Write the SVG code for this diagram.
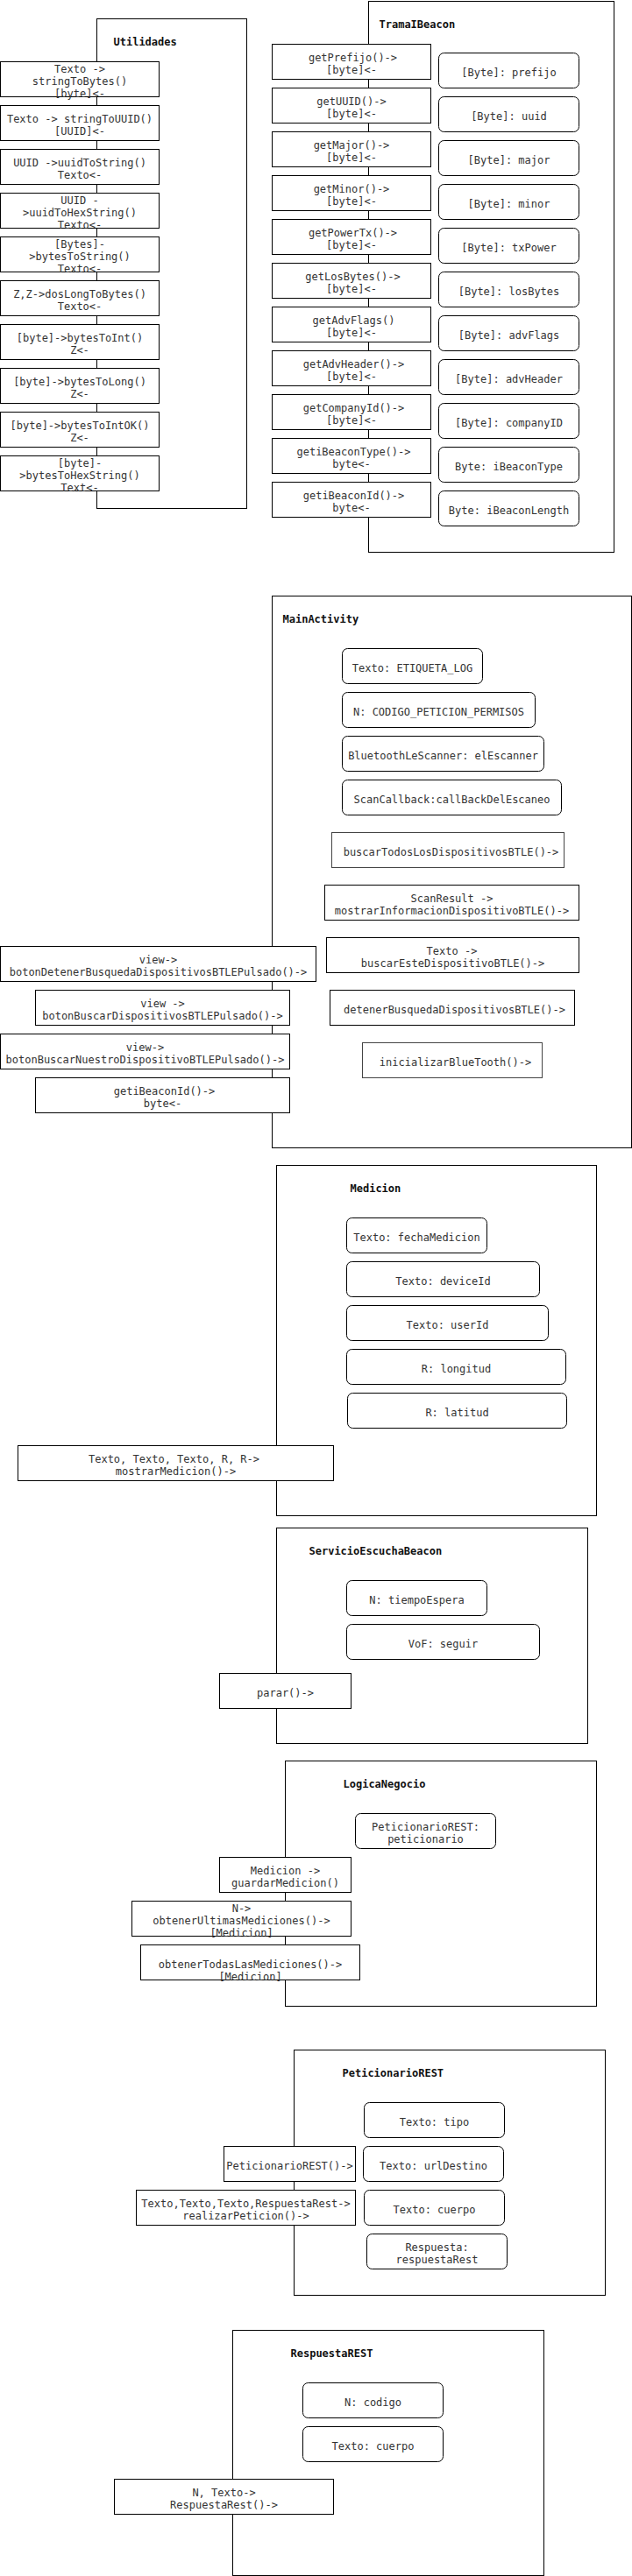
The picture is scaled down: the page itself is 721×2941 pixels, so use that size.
<svg xmlns="http://www.w3.org/2000/svg" width="721" height="2941" viewBox="0 0 721 2941">
<style>
rect{fill:#fff;stroke:#000;stroke-width:1}
rect.g{stroke:#444}
text{font-family:"DejaVu Sans Mono","Liberation Mono",monospace;font-size:12px;fill:#333;text-anchor:middle}
text.h{font-weight:bold;fill:#111;text-anchor:start}
</style>
<rect x="0" y="0" width="721" height="2941" style="stroke:none"/>
<g transform="translate(0.5,0.5)">
<g id="connectors"/>

<g id="Utilidades">
<rect x="110" y="21" width="171" height="559"/>
<text class="h" x="129" y="51">Utilidades</text>
<g id="u1"><rect x="0" y="70" width="181" height="40"/><text x="90.5" y="82.5">Texto -&gt;</text><text x="90.5" y="96.5">stringToBytes()</text><text x="90.5" y="110.5">[byte]&lt;-</text></g>
<g id="u2"><rect x="0" y="120" width="181" height="40"/><text x="90.5" y="139.5">Texto -&gt; stringToUUID()</text><text x="90.5" y="153.5">[UUID]&lt;-</text></g>
<g id="u3"><rect x="0" y="170" width="181" height="40"/><text x="90.5" y="189.5">UUID -&gt;uuidToString()</text><text x="90.5" y="203.5">Texto&lt;-</text></g>
<g id="u4"><rect x="0" y="220" width="181" height="40"/><text x="90.5" y="232.5">UUID -</text><text x="90.5" y="246.5">&gt;uuidToHexString()</text><text x="90.5" y="260.5">Texto&lt;-</text></g>
<g id="u5"><rect x="0" y="270" width="181" height="40"/><text x="90.5" y="282.5">[Bytes]-</text><text x="90.5" y="296.5">&gt;bytesToString()</text><text x="90.5" y="310.5">Texto&lt;-</text></g>
<g id="u6"><rect x="0" y="320" width="181" height="40"/><text x="90.5" y="339.5">Z,Z-&gt;dosLongToBytes()</text><text x="90.5" y="353.5">Texto&lt;-</text></g>
<g id="u7"><rect x="0" y="370" width="181" height="40"/><text x="90.5" y="389.5">[byte]-&gt;bytesToInt()</text><text x="90.5" y="403.5">Z&lt;-</text></g>
<g id="u8"><rect x="0" y="420" width="181" height="40"/><text x="90.5" y="439.5">[byte]-&gt;bytesToLong()</text><text x="90.5" y="453.5">Z&lt;-</text></g>
<g id="u9"><rect x="0" y="470" width="181" height="40"/><text x="90.5" y="489.5">[byte]-&gt;bytesToIntOK()</text><text x="90.5" y="503.5">Z&lt;-</text></g>
<g id="u10"><rect x="0" y="520" width="181" height="40"/><text x="90.5" y="532.5">[byte]-</text><text x="90.5" y="546.5">&gt;bytesToHexString()</text><text x="90.5" y="560.5">Text&lt;-</text></g>
</g>

<g id="TramaIBeacon">
<rect x="420" y="1" width="280" height="629"/>
<text class="h" x="432" y="31">TramaIBeacon</text>
<g id="t1"><rect x="310" y="50" width="181" height="40"/><text x="402" y="69.5">getPrefijo()-&gt;</text><text x="400.5" y="83.5">[byte]&lt;-</text></g>
<g id="t2"><rect x="310" y="100" width="181" height="40"/><text x="400.5" y="119.5">getUUID()-&gt;</text><text x="400.5" y="133.5">[byte]&lt;-</text></g>
<g id="t3"><rect x="310" y="150" width="181" height="40"/><text x="400.5" y="169.5">getMajor()-&gt;</text><text x="400.5" y="183.5">[byte]&lt;-</text></g>
<g id="t4"><rect x="310" y="200" width="181" height="40"/><text x="400.5" y="219.5">getMinor()-&gt;</text><text x="400.5" y="233.5">[byte]&lt;-</text></g>
<g id="t5"><rect x="310" y="250" width="181" height="40"/><text x="402" y="269.5">getPowerTx()-&gt;</text><text x="400.5" y="283.5">[byte]&lt;-</text></g>
<g id="t6"><rect x="310" y="300" width="181" height="40"/><text x="402" y="319.5">getLosBytes()-&gt;</text><text x="400.5" y="333.5">[byte]&lt;-</text></g>
<g id="t7"><rect x="310" y="350" width="181" height="40"/><text x="403" y="369.5">getAdvFlags()</text><text x="400.5" y="383.5">[byte]&lt;-</text></g>
<g id="t8"><rect x="310" y="400" width="181" height="40"/><text x="403" y="419.5">getAdvHeader()-&gt;</text><text x="400.5" y="433.5">[byte]&lt;-</text></g>
<g id="t9"><rect x="310" y="450" width="181" height="40"/><text x="403" y="469.5">getCompanyId()-&gt;</text><text x="400.5" y="483.5">[byte]&lt;-</text></g>
<g id="t10"><rect x="310" y="500" width="181" height="40"/><text x="403" y="519.5">getiBeaconType()-&gt;</text><text x="400.5" y="533.5">byte&lt;-</text></g>
<g id="t11"><rect x="310" y="550" width="181" height="40"/><text x="403" y="569.5">getiBeaconId()-&gt;</text><text x="400.5" y="583.5">byte&lt;-</text></g>
<g id="ta1"><rect x="500" y="60" width="160" height="40" rx="6"/><text x="580" y="86.5">[Byte]: prefijo</text></g>
<g id="ta2"><rect x="500" y="110" width="160" height="40" rx="6"/><text x="580" y="136.5">[Byte]: uuid</text></g>
<g id="ta3"><rect x="500" y="160" width="160" height="40" rx="6"/><text x="580" y="186.5">[Byte]: major</text></g>
<g id="ta4"><rect x="500" y="210" width="160" height="40" rx="6"/><text x="580" y="236.5">[Byte]: minor</text></g>
<g id="ta5"><rect x="500" y="260" width="160" height="40" rx="6"/><text x="580" y="286.5">[Byte]: txPower</text></g>
<g id="ta6"><rect x="500" y="310" width="160" height="40" rx="6"/><text x="580" y="336.5">[Byte]: losBytes</text></g>
<g id="ta7"><rect x="500" y="360" width="160" height="40" rx="6"/><text x="580" y="386.5">[Byte]: advFlags</text></g>
<g id="ta8"><rect x="500" y="410" width="160" height="40" rx="6"/><text x="580" y="436.5">[Byte]: advHeader</text></g>
<g id="ta9"><rect x="500" y="460" width="160" height="40" rx="6"/><text x="580" y="486.5">[Byte]: companyID</text></g>
<g id="ta10"><rect x="500" y="510" width="160" height="40" rx="6"/><text x="580" y="536.5">Byte: iBeaconType</text></g>
<g id="ta11"><rect x="500" y="560" width="160" height="40" rx="6"/><text x="580" y="586.5">Byte: iBeaconLength</text></g>
</g>

<g id="MainActivity">
<rect x="310" y="680" width="410" height="630"/>
<text class="h" x="322" y="710">MainActivity</text>
<g id="ma1"><rect x="390" y="740" width="160" height="40" rx="6"/><text x="470" y="766.5">Texto: ETIQUETA_LOG</text></g>
<g id="ma2"><rect x="390" y="790" width="220" height="40" rx="6"/><text x="500" y="816.5">N: CODIGO_PETICION_PERMISOS</text></g>
<g id="ma3"><rect x="390" y="840" width="230" height="40" rx="6"/><text x="505" y="866.5">BluetoothLeScanner: elEscanner</text></g>
<g id="ma4"><rect x="390" y="890" width="250" height="40" rx="6"/><text x="515" y="916.5">ScanCallback:callBackDelEscaneo</text></g>
<g id="mm1"><rect class="g" x="378" y="950" width="265" height="40"/><text x="514" y="976.5">buscarTodosLosDispositivosBTLE()-&gt;</text></g>
<g id="mm2"><rect x="370" y="1010" width="290" height="40"/><text x="515" y="1029.5">ScanResult -&gt;</text><text x="515" y="1043.5">mostrarInformacionDispositivoBTLE()-&gt;</text></g>
<g id="mm3"><rect x="372" y="1070" width="288" height="40"/><text x="515" y="1089.5">Texto -&gt;</text><text x="516" y="1103.5">buscarEsteDispositivoBTLE()-&gt;</text></g>
<g id="mm4"><rect x="376" y="1130" width="279" height="40"/><text x="518" y="1156.5">detenerBusquedaDispositivosBTLE()-&gt;</text></g>
<g id="mm5"><rect class="g" x="413" y="1190" width="205" height="40"/><text x="519" y="1216.5">inicializarBlueTooth()-&gt;</text></g>
<g id="ml1"><rect x="0" y="1080" width="360" height="40"/><text x="180" y="1099.5">view-&gt;</text><text x="180" y="1113.5">botonDetenerBusquedaDispositivosBTLEPulsado()-&gt;</text></g>
<g id="ml2"><rect x="40" y="1130" width="290" height="40"/><text x="185" y="1149.5">view -&gt;</text><text x="185" y="1163.5">botonBuscarDispositivosBTLEPulsado()-&gt;</text></g>
<g id="ml3"><rect x="0" y="1180" width="330" height="40"/><text x="165" y="1199.5">view-&gt;</text><text x="165" y="1213.5">botonBuscarNuestroDispositivoBTLEPulsado()-&gt;</text></g>
<g id="ml4"><rect x="40" y="1230" width="290" height="40"/><text x="187" y="1249.5">getiBeaconId()-&gt;</text><text x="185" y="1263.5">byte&lt;-</text></g>
</g>

<g id="Medicion">
<rect x="315" y="1330" width="365" height="400"/>
<text class="h" x="399" y="1360">Medicion</text>
<g id="me1"><rect x="395" y="1390" width="160" height="40" rx="6"/><text x="475" y="1416.5">Texto: fechaMedicion</text></g>
<g id="me2"><rect x="395" y="1440" width="220" height="40" rx="6"/><text x="505" y="1466.5">Texto: deviceId</text></g>
<g id="me3"><rect x="395" y="1490" width="230" height="40" rx="6"/><text x="510" y="1516.5">Texto: userId</text></g>
<g id="me4"><rect x="395" y="1540" width="250" height="40" rx="6"/><text x="520" y="1566.5">R: longitud</text></g>
<g id="me5"><rect x="396" y="1590" width="250" height="40" rx="6"/><text x="521" y="1616.5">R: latitud</text></g>
<g id="me6"><rect x="20" y="1650" width="360" height="40"/><text x="198" y="1669.5">Texto, Texto, Texto, R, R-&gt;</text><text x="200" y="1683.5">mostrarMedicion()-&gt;</text></g>
</g>

<g id="ServicioEscuchaBeacon">
<rect x="315" y="1744" width="355" height="246"/>
<text class="h" x="352" y="1774">ServicioEscuchaBeacon</text>
<g id="se1"><rect x="395" y="1804" width="160" height="40" rx="6"/><text x="475" y="1830.5">N: tiempoEspera</text></g>
<g id="se2"><rect x="395" y="1854" width="220" height="40" rx="6"/><text x="505" y="1880.5">VoF: seguir</text></g>
<g id="se3"><rect x="250" y="1910" width="150" height="40"/><text x="325" y="1936.5">parar()-&gt;</text></g>
</g>

<g id="LogicaNegocio">
<rect x="325" y="2010" width="355" height="280"/>
<text class="h" x="391" y="2040">LogicaNegocio</text>
<g id="ln1"><rect x="405" y="2070" width="160" height="40" rx="6"/><text x="485" y="2089.5">PeticionarioREST:</text><text x="485" y="2103.5">peticionario</text></g>
<g id="ln2"><rect x="250" y="2120" width="150" height="40"/><text x="325" y="2139.5">Medicion -&gt;</text><text x="325" y="2153.5">guardarMedicion()</text></g>
<g id="ln3"><rect x="150" y="2170" width="250" height="40"/><text x="275" y="2182.5">N-&gt;</text><text x="275" y="2196.5">obtenerUltimasMediciones()-&gt;</text><text x="275" y="2210.5">[Medicion]</text></g>
<g id="ln4"><rect x="160" y="2220" width="250" height="40"/><text x="285" y="2246.5">obtenerTodasLasMediciones()-&gt;</text><text x="285" y="2260.5">[Medicion]</text></g>
</g>

<g id="PeticionarioREST">
<rect x="335" y="2340" width="355" height="280"/>
<text class="h" x="390" y="2370">PeticionarioREST</text>
<g id="pr1"><rect x="415" y="2400" width="160" height="40" rx="6"/><text x="495" y="2426.5">Texto: tipo</text></g>
<g id="pr2"><rect x="414" y="2450" width="160" height="40" rx="6"/><text x="494" y="2476.5">Texto: urlDestino</text></g>
<g id="pr3"><rect x="415" y="2500" width="160" height="40" rx="6"/><text x="495" y="2526.5">Texto: cuerpo</text></g>
<g id="pr4"><rect x="418" y="2550" width="160" height="40" rx="6"/><text x="498" y="2569.5">Respuesta:</text><text x="498" y="2583.5">respuestaRest</text></g>
<g id="pr5"><rect x="255" y="2450" width="150" height="40"/><text x="330" y="2476.5">PeticionarioREST()-&gt;</text></g>
<g id="pr6"><rect x="155" y="2500" width="250" height="40"/><text x="280" y="2519.5">Texto,Texto,Texto,RespuestaRest-&gt;</text><text x="280" y="2533.5">realizarPeticion()-&gt;</text></g>
</g>

<g id="RespuestaREST">
<rect x="265" y="2660" width="355" height="280"/>
<text class="h" x="331" y="2690">RespuestaREST</text>
<g id="rr1"><rect x="345" y="2720" width="160" height="40" rx="6"/><text x="425" y="2746.5">N: codigo</text></g>
<g id="rr2"><rect x="345" y="2770" width="160" height="40" rx="6"/><text x="425" y="2796.5">Texto: cuerpo</text></g>
<g id="rr3"><rect x="130" y="2830" width="250" height="40"/><text x="255" y="2849.5">N, Texto-&gt;</text><text x="255" y="2863.5">RespuestaRest()-&gt;</text></g>
</g>
</g>
</svg>
